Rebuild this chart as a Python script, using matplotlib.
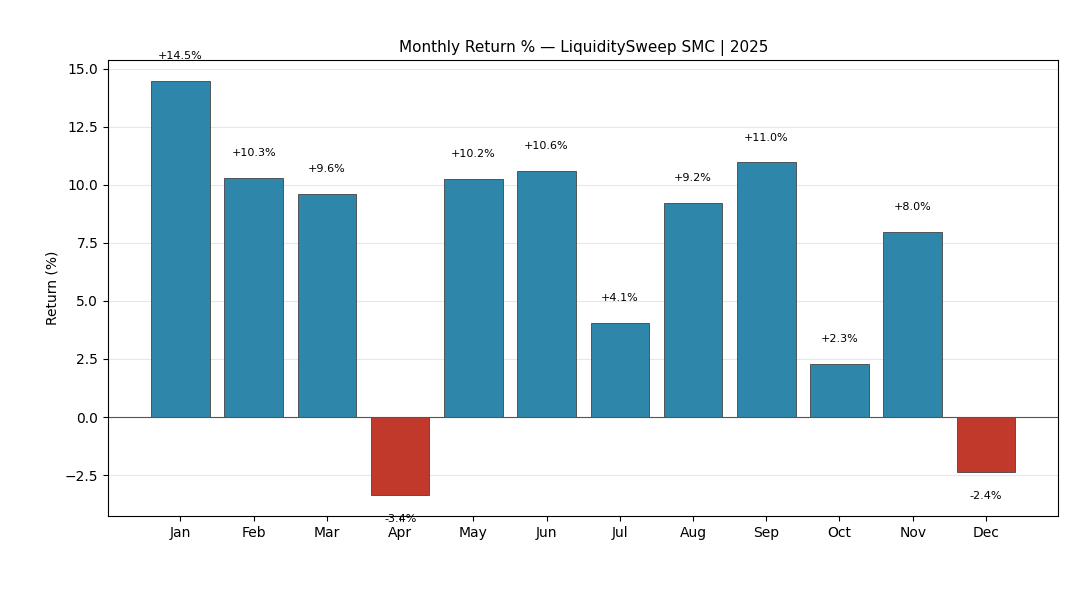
import numpy as np
import matplotlib.pyplot as plt

# Datos
months = ['Jan', 'Feb', 'Mar', 'Apr', 'May', 'Jun', 'Jul', 'Aug', 'Sep', 'Oct', 'Nov', 'Dec']
returns = [14.48, 10.30, 9.61, -3.37, 10.24, 10.60, 4.06, 9.22, 10.97, 2.28, 7.96, -2.38]

POS_COLOR = '#2E86AB'
NEG_COLOR = '#C0392B'

fig, ax = plt.subplots(figsize=(10.8, 6), dpi=100)
fig.subplots_adjust(left=0.1, right=0.98, top=0.9, bottom=0.14)

x = np.arange(len(months))
colors = [POS_COLOR if r >= 0 else NEG_COLOR for r in returns]
ax.bar(x, returns, width=0.8, color=colors, edgecolor='#444444', linewidth=0.6)

ax.axhline(0, color='#555555', linewidth=0.8)
ax.grid(axis='y', alpha=0.3)
ax.set_axisbelow(True)

for xi, r in zip(x, returns):
    if r >= 0:
        ax.text(xi, r + 0.85, f'+{r:.1f}%', ha='center', va='bottom', fontsize=8)
    else:
        ax.text(xi, r - 0.8, f'{r:.1f}%', ha='center', va='top', fontsize=8)

ax.set_xticks(x)
ax.set_xticklabels(months)
ax.set_ylabel('Return (%)')
ax.set_title('Monthly Return % — LiquiditySweep SMC | 2025', fontsize=11)

plt.savefig('out.png', dpi=100)
